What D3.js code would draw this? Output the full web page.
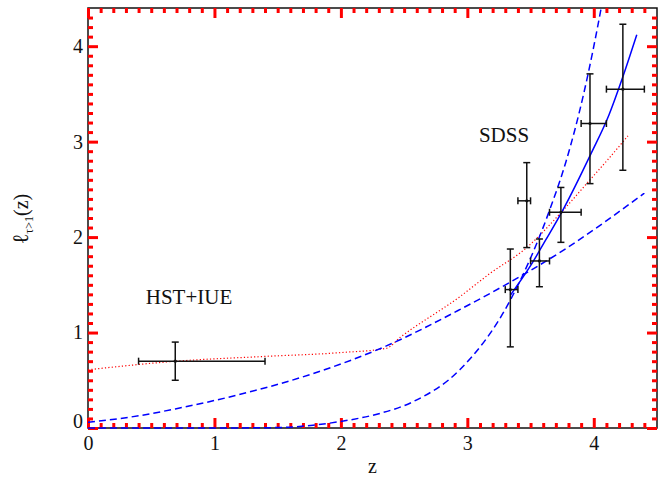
<!DOCTYPE html>
<html>
<head>
<meta charset="utf-8">
<script src="https://cdn.jsdelivr.net/npm/d3@7"></script>
<style>
  body { margin: 0; background: white; }
  text { font-family: "Liberation Serif", "Times New Roman", serif; fill: #111; }
</style>
</head>
<body>
<div id="main_content"></div>
<script>
var width = 666, height = 479;
var plotL = 88, plotR = 657, plotT = 8, plotB = 428;

// red dotted curve (z, l)
var redZ = [0, 0.7, 1.4, 2.0, 2.36, 2.47, 2.94, 3.18, 3.47, 3.75, 3.97, 4.11, 4.27];
var redL = [0.61, 0.70, 0.75, 0.79, 0.835, 0.95, 1.375, 1.62, 1.89, 2.27, 2.60, 2.81, 3.06];

// shallow blue dashed curve
var dashAZ = [0, 0.41, 0.69, 1.18, 1.78, 2.36, 2.94, 3.18, 3.78, 4.40];
var dashAL = [0.06, 0.13, 0.20, 0.345, 0.57, 0.86, 1.24, 1.41, 1.88, 2.46];

// steep blue dashed curve
var dashBZ = [0, 1.0, 1.52, 1.78, 2.02, 2.3, 2.57, 2.94, 3.34, 3.65, 3.78, 3.92, 4.06, 4.12];
var dashBL = [0, 0, 0.005, 0.03, 0.073, 0.15, 0.275, 0.61, 1.34, 2.28, 2.79, 3.5, 4.41, 4.85];

// blue solid fit
var solidZ = [3.34, 3.5, 3.62, 3.75, 3.98, 4.12, 4.23, 4.34];
var solidL = [1.39, 1.70, 1.97, 2.27, 2.88, 3.28, 3.68, 4.12];

// data points with error bars
var ptZ   = [0.69, 3.34, 3.47, 3.57, 3.74, 3.97, 4.23];
var ptL   = [0.70, 1.45, 2.38, 1.75, 2.26, 3.19, 3.55];
var ptZlo = [0.40, 3.30, 3.40, 3.50, 3.65, 3.90, 4.10];
var ptZhi = [1.40, 3.40, 3.50, 3.65, 3.90, 4.10, 4.40];
var ptLlo = [0.50, 0.85, 1.89, 1.48, 1.945, 2.56, 2.70];
var ptLhi = [0.90, 1.875, 2.78, 1.98, 2.52, 3.71, 4.23];

var xTicks = [0, 1, 2, 3, 4];
var yTicks = [0, 1, 2, 3, 4];

var svg = d3.select('#main_content').append('svg')
  .attr('width', width)
  .attr('height', height)
  .style('background', 'white');

var x = d3.scaleLinear().domain([0, 4.5]).range([plotL, plotR]);
var y = d3.scaleLinear().domain([0, 4.4]).range([plotB, plotT]);

var xMinor = d3.range(0, 45).filter(function(i) { return i % 10 !== 0; }).map(function(i) { return i / 10; });
var yMinor = d3.range(0, 44).filter(function(i) { return i % 10 !== 0; }).map(function(i) { return i / 10; });
var noLabel = function() { return ''; };

function styleAxis(g) {
  g.select('.domain').remove();
  g.selectAll('.tick line').attr('stroke', '#f00').attr('stroke-width', 3);
  g.selectAll('text').style('font-size', '20px');
}

// frame
svg.append('rect').attr('x', plotL).attr('y', plotT).attr('width', plotR - plotL).attr('height', plotB - plotT)
  .attr('fill', 'none').attr('stroke', '#111').attr('stroke-width', 1.5);

// bottom
svg.append('g').attr('transform', 'translate(0,' + plotB + ')')
  .call(d3.axisBottom(x).tickValues(xTicks).tickFormat(d3.format('d')).tickSize(-10).tickPadding(8))
  .call(styleAxis);
svg.append('g').attr('transform', 'translate(0,' + plotB + ')')
  .call(d3.axisBottom(x).tickValues(xMinor).tickFormat(noLabel).tickSize(-5))
  .call(styleAxis);
// top
svg.append('g').attr('transform', 'translate(0,' + plotT + ')')
  .call(d3.axisTop(x).tickValues(xTicks).tickFormat(noLabel).tickSize(-10))
  .call(styleAxis);
svg.append('g').attr('transform', 'translate(0,' + plotT + ')')
  .call(d3.axisTop(x).tickValues(xMinor).tickFormat(noLabel).tickSize(-5))
  .call(styleAxis);
// left
var yAx = svg.append('g').attr('transform', 'translate(' + plotL + ',0)')
  .call(d3.axisLeft(y).tickValues(yTicks).tickFormat(d3.format('d')).tickSize(-10).tickPadding(5))
  .call(styleAxis);
yAx.selectAll('.tick').filter(function(d) { return d === 0; }).select('text').attr('y', -7);
svg.append('g').attr('transform', 'translate(' + plotL + ',0)')
  .call(d3.axisLeft(y).tickValues(yMinor).tickFormat(noLabel).tickSize(-5))
  .call(styleAxis);
// right
svg.append('g').attr('transform', 'translate(' + plotR + ',0)')
  .call(d3.axisRight(y).tickValues(yTicks).tickFormat(noLabel).tickSize(-10))
  .call(styleAxis);
svg.append('g').attr('transform', 'translate(' + plotR + ',0)')
  .call(d3.axisRight(y).tickValues(yMinor).tickFormat(noLabel).tickSize(-5))
  .call(styleAxis);

svg.append('defs').append('clipPath').attr('id', 'plotclip')
  .append('rect').attr('x', plotL).attr('y', plotT).attr('width', plotR - plotL).attr('height', plotB - plotT + 1);

var plot = svg.append('g').attr('clip-path', 'url(#plotclip)');

function pairs(zs, ls) {
  return zs.map(function(z, i) { return [z, ls[i]]; });
}

var curveLine = d3.line()
  .x(function(d) { return x(d[0]); })
  .y(function(d) { return y(d[1]); })
  .curve(d3.curveMonotoneX);

plot.append('path').datum(pairs(redZ, redL))
  .attr('d', curveLine).attr('fill', 'none')
  .attr('stroke', '#ff0000').attr('stroke-width', 1.2).attr('stroke-dasharray', '1.2,2.2');

plot.append('path').datum(pairs(dashAZ, dashAL))
  .attr('d', curveLine).attr('fill', 'none')
  .attr('stroke', '#0000ff').attr('stroke-width', 1.5).attr('stroke-dasharray', '7,4');

plot.append('path').datum(pairs(dashBZ, dashBL))
  .attr('d', curveLine).attr('fill', 'none')
  .attr('stroke', '#0000ff').attr('stroke-width', 1.5).attr('stroke-dasharray', '7,4');

plot.append('path').datum(pairs(solidZ, solidL))
  .attr('d', curveLine).attr('fill', 'none')
  .attr('stroke', '#0000ff').attr('stroke-width', 1.5);

// error bars
var cap = 3.5;
var pts = ptZ.map(function(z, i) {
  return { z: z, l: ptL[i], zlo: ptZlo[i], zhi: ptZhi[i], llo: ptLlo[i], lhi: ptLhi[i] };
});
var eb = svg.append('g').attr('stroke', '#111').attr('stroke-width', 1.5).attr('fill', 'none');
pts.forEach(function(d) {
  var g = eb.append('g');
  g.append('line').attr('x1', x(d.z)).attr('x2', x(d.z)).attr('y1', y(d.llo)).attr('y2', y(d.lhi));
  g.append('line').attr('x1', x(d.z) - cap).attr('x2', x(d.z) + cap).attr('y1', y(d.llo)).attr('y2', y(d.llo));
  g.append('line').attr('x1', x(d.z) - cap).attr('x2', x(d.z) + cap).attr('y1', y(d.lhi)).attr('y2', y(d.lhi));
  g.append('line').attr('x1', x(d.zlo)).attr('x2', x(d.zhi)).attr('y1', y(d.l)).attr('y2', y(d.l));
  g.append('line').attr('x1', x(d.zlo)).attr('x2', x(d.zlo)).attr('y1', y(d.l) - cap).attr('y2', y(d.l) + cap);
  g.append('line').attr('x1', x(d.zhi)).attr('x2', x(d.zhi)).attr('y1', y(d.l) - cap).attr('y2', y(d.l) + cap);
  g.append('circle').attr('cx', x(d.z)).attr('cy', y(d.l)).attr('r', 1.6).attr('fill', '#111').attr('stroke', 'none');
});

// annotations
svg.append('text').attr('x', 504).attr('y', 142).attr('text-anchor', 'middle')
  .style('font-size', '21px').text('SDSS');
svg.append('text').attr('x', 189).attr('y', 304).attr('text-anchor', 'middle')
  .style('font-size', '21px').text('HST+IUE');

// axis titles
svg.append('text').attr('x', (plotL + plotR) / 2).attr('y', 473).attr('text-anchor', 'middle')
  .style('font-size', '20px').text('z');

var yt = svg.append('text').attr('transform', 'translate(28,219) rotate(-90)')
  .attr('text-anchor', 'middle').style('font-size', '20px');
yt.append('tspan').style('font-size', '22px').text('\u2113');
yt.append('tspan').attr('dy', 5).style('font-size', '12px').text('\u03c4>1');
yt.append('tspan').attr('dy', -5).text('(z)');
</script>
</body>
</html>
